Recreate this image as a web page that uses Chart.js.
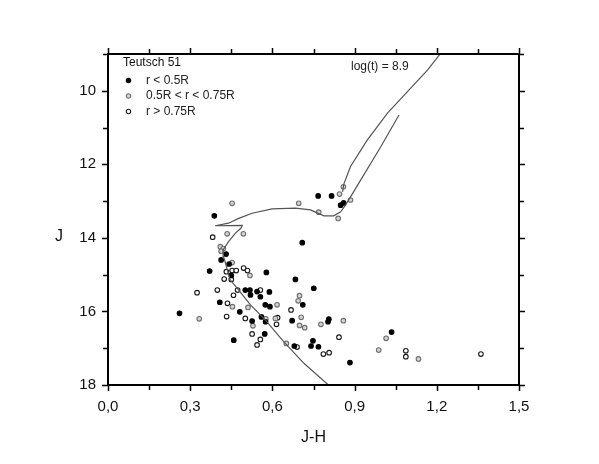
<!DOCTYPE html>
<html><head><meta charset="utf-8">
<script src="https://cdn.jsdelivr.net/npm/chart.js@4/dist/chart.umd.min.js"></script>
<style>html,body{margin:0;padding:0;background:#fff}#wrap{width:599px;height:464px;position:relative}</style>
</head><body><div id="wrap"><canvas id="c" width="599" height="464"></canvas></div>
<script>
// J-H colour and J magnitude of stars
const innerX = [0.767,0.816,0.849,0.860,0.388,0.709,0.431,0.413,0.442,0.371,0.450,0.578,0.684,0.751,0.501,0.518,0.520,0.544,0.556,0.589,0.261,0.408,0.574,0.591,0.711,0.481,0.526,0.560,0.575,0.572,0.672,0.806,0.803,0.459,0.680,0.748,0.741,0.768,0.883,1.035];
const innerJ = [12.86,12.86,13.11,13.05,13.40,14.13,14.44,14.60,14.71,14.90,15.02,14.94,15.13,15.37,15.42,15.42,15.55,15.46,15.60,15.47,16.05,15.75,15.82,15.87,15.82,16.01,16.26,16.15,16.28,16.61,16.25,16.21,16.28,16.78,16.94,16.80,16.94,16.96,17.39,16.56];
const midX = [0.859,0.845,0.885,0.453,0.696,0.769,0.840,0.435,0.494,0.410,0.421,0.413,0.453,0.518,0.699,0.694,0.617,0.333,0.454,0.511,0.529,0.576,0.611,0.705,0.699,0.718,0.777,0.859,0.651,1.015,0.988,1.133];
const midJ = [12.61,12.81,12.97,13.06,13.06,13.30,13.47,13.89,13.89,14.24,14.29,14.36,14.67,15.02,15.57,15.71,15.82,16.20,15.87,15.89,16.39,16.20,16.19,16.16,16.38,16.44,16.35,16.25,16.87,16.73,17.05,17.29];
const outerX = [0.382,0.432,0.453,0.468,0.495,0.509,0.424,0.450,0.325,0.399,0.458,0.473,0.556,0.436,0.433,0.501,0.619,0.615,0.668,0.526,0.556,0.544,0.690,0.786,0.807,0.843,1.087,1.087,1.361];
const outerJ = [13.98,14.92,14.89,14.89,14.82,14.89,15.12,15.13,15.49,15.42,15.56,15.42,15.42,15.78,16.14,16.19,16.17,16.35,15.96,16.61,16.76,16.91,16.97,17.16,17.12,16.70,17.07,17.23,17.16];
// isochrone log(t)=8.9
const isoX = [0.812,0.715,0.641,0.574,0.520,0.477,0.446,0.434,0.422,0.420,0.440,0.465,0.485,0.490,0.391,0.440,0.477,0.526,0.599,0.684,0.739,0.788,0.824,0.849,0.867,0.922,0.995,1.062];
const isoJ = [18.05,17.41,16.82,16.23,15.82,15.42,15.14,14.83,14.51,14.33,14.10,13.87,13.74,13.66,13.67,13.60,13.47,13.33,13.21,13.19,13.24,13.40,13.40,13.29,13.11,12.43,11.53,10.66];
const agbX = [0.856,0.861,0.885,0.946,1.020,1.098,1.166,1.212,1.22];
const agbJ = [12.75,12.53,12.06,11.34,10.61,9.98,9.44,9.00,8.85];
const xTicks = [0,0.3,0.6,0.9,1.2,1.5];
const yTicks = [10,12,14,16,18];
const legendLabels = ['r < 0.5R','0.5R < r < 0.75R','r > 0.75R'];
const clusterName = 'Teutsch 51';
const ageLabel = 'log(t) = 8.9';

const pts = (xs, ys) => xs.map((x, i) => ({x, y: ys[i]}));
const styles = [
  {bg:'#000', bd:'#000'},
  {bg:'#d4d4d4', bd:'#707070'},
  {bg:'#fff', bd:'#1a1a1a'}
];

const frame = {
  id: 'frame',
  afterDraw(chart) {
    const {ctx, chartArea: a, scales: {x, y}} = chart;
    ctx.save();
    ctx.strokeStyle = '#000';
    ctx.lineWidth = 2;
    ctx.strokeRect(a.left, a.top, a.right - a.left, a.bottom - a.top);
    ctx.lineWidth = 1.5;
    ctx.beginPath();
    for (let k = 0; k <= 10; k++) {
      const v = k * 0.15;
      const px = Math.round(x.getPixelForValue(v)) + 0.5;
      const L = (k % 2 === 0) ? 6 : 5;
      ctx.moveTo(px, a.bottom); ctx.lineTo(px, a.bottom + L);
      ctx.moveTo(px, a.top); ctx.lineTo(px, a.top - L);
    }
    for (let v = 9; v <= 18; v++) {
      const py = Math.round(y.getPixelForValue(v)) + 0.5;
      const L = (v % 2 === 0) ? 6 : 5;
      ctx.moveTo(a.left, py); ctx.lineTo(a.left - L, py);
      ctx.moveTo(a.right, py); ctx.lineTo(a.right + L, py);
    }
    ctx.stroke();
    // axis titles
    ctx.fillStyle = '#111';
    ctx.font = '16px "Liberation Sans", Arial, sans-serif';
    ctx.textAlign = 'center'; ctx.textBaseline = 'middle';
    ctx.fillText('J-H', (a.left + a.right) / 2, 438);
    ctx.fillText('J', 59, 237);
    // legend
    ctx.font = '12px "Liberation Sans", Arial, sans-serif';
    ctx.textAlign = 'left';
    ctx.fillText(clusterName, 123, 63);
    const rows = [80.5, 96, 111.5];
    legendLabels.forEach((t, i) => {
      ctx.beginPath();
      ctx.arc(128.5, rows[i], 2.2, 0, Math.PI * 2);
      ctx.fillStyle = styles[i].bg; ctx.fill();
      ctx.lineWidth = 1.1; ctx.strokeStyle = styles[i].bd; ctx.stroke();
      ctx.fillStyle = '#222';
      ctx.fillText(t, 146, rows[i]);
    });
    ctx.fillText(ageLabel, 351, 67);
    ctx.restore();
  }
};

const mk = (label, data, i) => ({
  label, data, type: 'scatter', showLine: false,
  pointRadius: 2.3, pointHoverRadius: 2.3,
  pointBackgroundColor: styles[i].bg, pointBorderColor: styles[i].bd, pointBorderWidth: 1.1
});

new Chart(document.getElementById('c'), {
  type: 'scatter',
  data: {
    datasets: [
      {label: 'iso', data: pts(isoX, isoJ), type: 'line', showLine: true, borderColor: '#555', borderWidth: 1.2, pointRadius: 0, fill: false, tension: 0},
      {label: 'agb', data: pts(agbX, agbJ), type: 'line', showLine: true, borderColor: '#555', borderWidth: 1.2, pointRadius: 0, fill: false, tension: 0},
      mk(legendLabels[0], pts(innerX, innerJ), 0),
      mk(legendLabels[1], pts(midX, midJ), 1),
      mk(legendLabels[2], pts(outerX, outerJ), 2)
    ]
  },
  options: {
    responsive: false, animation: false, events: [],
    layout: {padding: {left: 0, right: 80, top: 54, bottom: 0}},
    plugins: {legend: {display: false}, tooltip: {enabled: false}},
    scales: {
      x: {
        type: 'linear', min: 0, max: 1.5,
        afterBuildTicks: s => { s.ticks = xTicks.map(v => ({value: v})); },
        afterFit: s => { s.height = 79; },
        grid: {display: false, drawTicks: false},
        border: {display: false},
        ticks: {padding: 13, color: '#111', maxRotation: 0, autoSkip: false,
          font: {size: 15, family: '"Liberation Sans", Arial, sans-serif'},
          callback: v => v.toFixed(1).replace('.', ',')}
      },
      y: {
        type: 'linear', min: 9, max: 18, reverse: true,
        afterBuildTicks: s => { s.ticks = yTicks.map(v => ({value: v})); },
        afterFit: s => { s.width = 108; },
        grid: {display: false, drawTicks: false},
        border: {display: false},
        ticks: {padding: 12, color: '#111', autoSkip: false,
          font: {size: 15, family: '"Liberation Sans", Arial, sans-serif'},
          callback: v => String(v)}
      }
    }
  },
  plugins: [frame]
});
</script></body></html>
